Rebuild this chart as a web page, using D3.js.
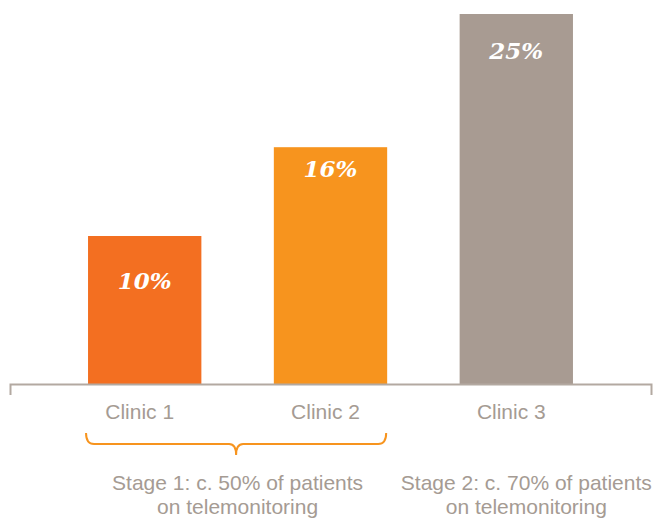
<!DOCTYPE html>
<html>
<head>
<meta charset="utf-8">
<script src="https://cdn.jsdelivr.net/npm/d3@7"></script>
<style>
  html, body { margin: 0; padding: 0; background: #ffffff; }
  svg { display: block; }
</style>
</head>
<body>
<svg id="chart" width="660" height="518"></svg>
<script>
// Share of patients, by clinic
const clinics = ["Clinic 1", "Clinic 2", "Clinic 3"];
const shares = [10, 16, 25];
const valueLabels = ["10%", "16%", "25%"];

// Rollout stages and the clinics each one covers
const stageLines = [
  ["Stage 1: c. 50% of patients", "on telemonitoring"],
  ["Stage 2: c. 70% of patients", "on telemonitoring"]
];
const stageClinics = [["Clinic 1", "Clinic 2"], ["Clinic 3"]];

// Layout and style
const barColors = ["#f36f21", "#f7941e", "#a89b92"];
const labelDrop = [53, 30, 45];      // value label baseline below bar top
const stageShift = [0, 10];
const braceColor = "#f7941e";
const textGrey = "#a59b93";
const axisGrey = "#b3a9a1";

const svg = d3.select("#chart");

const x = d3.scaleBand()
  .domain(clinics)
  .range([10, 651])
  .paddingInner(0.39)
  .paddingOuter(0.42);

const y = d3.scaleLinear()
  .domain([0, 25])
  .range([384, 14]);

// Bars
svg.append("g")
  .selectAll("rect")
  .data(clinics)
  .join("rect")
  .attr("x", d => x(d))
  .attr("width", x.bandwidth())
  .attr("y", (d, i) => y(shares[i]))
  .attr("height", (d, i) => y(0) - y(shares[i]))
  .attr("fill", (d, i) => barColors[i]);

// Value labels inside the bars
svg.append("g")
  .selectAll("text")
  .data(clinics)
  .join("text")
  .attr("x", d => x(d) + x.bandwidth() / 2)
  .attr("y", (d, i) => y(shares[i]) + labelDrop[i])
  .attr("text-anchor", "middle")
  .attr("fill", "#ffffff")
  .style("font-family", "'DejaVu Serif', serif")
  .style("font-weight", "bold")
  .style("font-style", "italic")
  .style("font-size", "23px")
  .text((d, i) => valueLabels[i]);

// Category axis: only the baseline with downturned ends
const axis = svg.append("g")
  .attr("transform", `translate(0,${y(0)})`)
  .call(d3.axisBottom(x).tickSizeInner(0).tickSizeOuter(11).tickPadding(20));

axis.select(".domain")
  .attr("stroke", axisGrey)
  .attr("stroke-width", 2);

axis.selectAll(".tick text")
  .attr("dx", -5)
  .attr("fill", textGrey)
  .style("font-family", "'Liberation Sans', Arial, sans-serif")
  .style("font-size", "21px");

// Brace grouping the clinics of the first stage
function bracePath(x0, x1, top, mid, tip) {
  const xm = (x0 + x1) / 2;
  return `M${x0},${top} Q${x0},${mid} ${x0 + 8},${mid} H${xm - 7} Q${xm},${mid} ${xm},${tip} ` +
         `Q${xm},${mid} ${xm + 7},${mid} H${x1 - 8} Q${x1},${mid} ${x1},${top}`;
}

stageClinics.forEach((list, i) => {
  const left = x(list[0]);
  const right = x(list[list.length - 1]) + x.bandwidth();
  const centre = (left + right) / 2 + stageShift[i];

  if (list.length > 1) {
    svg.append("path")
      .attr("d", bracePath(left - 2, right - 1, 433, 444, 455))
      .attr("fill", "none")
      .attr("stroke", braceColor)
      .attr("stroke-width", 2);
  }

  const t = svg.append("text")
    .attr("text-anchor", "middle")
    .attr("fill", textGrey)
    .style("font-family", "'Liberation Sans', Arial, sans-serif")
    .style("font-size", "21px");

  stageLines[i].forEach((line, j) => {
    t.append("tspan")
      .attr("x", centre)
      .attr("y", 490 + j * 24)
      .text(line);
  });
});
</script>
</body>
</html>
